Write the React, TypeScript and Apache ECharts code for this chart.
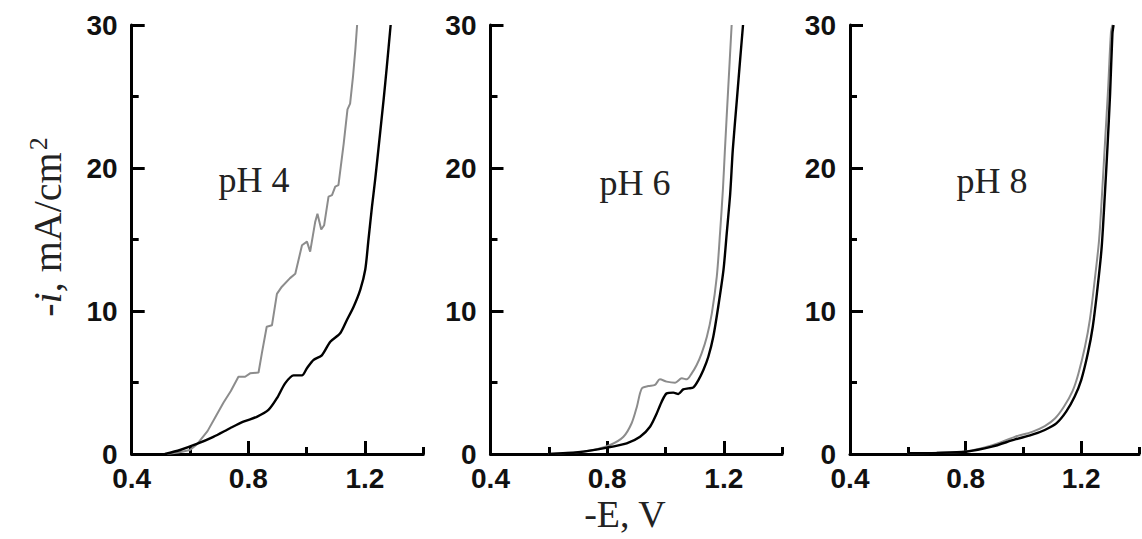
import React, { useEffect, useRef } from 'react';
import * as echarts from 'echarts';

// ---- data ----
const panelLabels = ['pH 4', 'pH 6', 'pH 8'];
const xLabelValues = [0.4, 0.8, 1.2];
const xMajorTickValues = [0.8, 1.2];

const ph4GrayE = [0.52, 0.56, 0.6, 0.625, 0.66, 0.69, 0.715, 0.74, 0.766, 0.789, 0.806, 0.835, 0.846, 0.863, 0.881, 0.898, 0.915, 0.943, 0.961, 0.984, 1.001, 1.012, 1.029, 1.037, 1.05, 1.06, 1.075, 1.087, 1.098, 1.109, 1.117, 1.127, 1.14, 1.149, 1.159, 1.167, 1.173];
const ph4GrayI = [0, 0.1, 0.28, 0.7, 1.6, 2.7, 3.6, 4.4, 5.4, 5.4, 5.64, 5.7, 7.0, 8.9, 9.0, 11.2, 11.7, 12.3, 12.6, 14.6, 14.85, 14.15, 16.2, 16.8, 15.7, 16.0, 18.0, 18.1, 18.7, 18.8, 20.1, 21.7, 24.1, 24.5, 26.4, 28.3, 30];
const ph4BlackE = [0.514, 0.566, 0.623, 0.68, 0.737, 0.783, 0.829, 0.869, 0.898, 0.926, 0.955, 0.984, 1.001, 1.023, 1.052, 1.081, 1.115, 1.138, 1.161, 1.184, 1.201, 1.212, 1.224, 1.235, 1.247, 1.264, 1.275, 1.288];
const ph4BlackI = [0, 0.28, 0.7, 1.2, 1.8, 2.26, 2.6, 3.08, 3.9, 4.94, 5.5, 5.5, 6.0, 6.57, 6.9, 7.85, 8.44, 9.37, 10.3, 11.5, 12.9, 15.0, 17.3, 19.2, 21.5, 24.8, 27.1, 30];

const ph6GrayE = [0.6, 0.7, 0.753, 0.81, 0.856, 0.884, 0.902, 0.919, 0.941, 0.964, 0.981, 1.004, 1.033, 1.056, 1.073, 1.09, 1.107, 1.124, 1.142, 1.159, 1.176, 1.187, 1.197, 1.204, 1.215, 1.227];
const ph6GrayI = [0, 0.12, 0.28, 0.63, 1.21, 2.15, 3.31, 4.59, 4.75, 4.83, 5.22, 5.06, 4.99, 5.29, 5.22, 5.64, 6.22, 7.04, 8.2, 9.84, 12.4, 15.4, 18.5, 21.3, 25.5, 30];
const ph6BlackE = [0.6, 0.7, 0.8, 0.867, 0.913, 0.947, 0.97, 0.987, 1.004, 1.027, 1.044, 1.061, 1.079, 1.096, 1.113, 1.13, 1.147, 1.164, 1.181, 1.199, 1.21, 1.222, 1.231, 1.245, 1.257, 1.266];
const ph6BlackI = [0, 0.12, 0.45, 0.75, 1.21, 1.91, 2.84, 3.66, 4.24, 4.29, 4.2, 4.52, 4.59, 4.66, 5.17, 5.87, 6.8, 8.2, 10.3, 12.87, 15.4, 18.2, 21.3, 24.8, 27.8, 30];

const ph8GrayE = [0.6, 0.7, 0.8, 0.89, 0.97, 1.03, 1.074, 1.11, 1.14, 1.17, 1.19, 1.213, 1.23, 1.247, 1.262, 1.273, 1.283, 1.293, 1.303, 1.308];
const ph8GrayI = [0.05, 0.08, 0.18, 0.6, 1.2, 1.55, 1.95, 2.5, 3.3, 4.4, 5.6, 7.5, 9.4, 12.2, 15.0, 18.5, 22, 25.5, 29.5, 30];
const ph8BlackE = [0.6, 0.7, 0.8, 0.891, 0.971, 1.028, 1.074, 1.114, 1.148, 1.177, 1.2, 1.223, 1.24, 1.257, 1.271, 1.282, 1.291, 1.3, 1.308, 1.312];
const ph8BlackI = [0.05, 0.08, 0.16, 0.51, 1.02, 1.33, 1.68, 2.14, 2.96, 4.0, 5.17, 7.04, 8.9, 11.7, 14.5, 18.2, 21.5, 25.2, 29.4, 30];

const panels = [
  { gray: [ph4GrayE, ph4GrayI], black: [ph4BlackE, ph4BlackI], graySmooth: 0 },
  { gray: [ph6GrayE, ph6GrayI], black: [ph6BlackE, ph6BlackI], graySmooth: 0.3 },
  { gray: [ph8GrayE, ph8GrayI], black: [ph8BlackE, ph8BlackI], graySmooth: 0.3 },
];

// ---- layout ----
const W = 1142;
const H = 539;
const gridLefts = [131.7, 490.5, 850];
const gridWidth = 291.6;
const gridTop = 25;
const gridHeight = 429;
const labelPos = [
  [254, 180],
  [635, 183],
  [992, 181],
];

const zip = (xs: number[], ys: number[]) => xs.map((x, i) => [x, ys[i]]);

export default function App() {
  const ref = useRef<HTMLDivElement>(null);

  useEffect(() => {
    document.body.style.margin = '0';
    if (!ref.current) return;
    const chart = echarts.init(ref.current, null, { renderer: 'svg' });

    const tickFont = {
      fontFamily: '"Liberation Sans", Arial, sans-serif',
      fontWeight: 'bold' as const,
      fontSize: 28,
      color: '#111',
    };
    const lineStyle = { color: '#000', width: 3 };

    const grid: any[] = [];
    const xAxis: any[] = [];
    const yAxis: any[] = [];
    const series: any[] = [];

    panels.forEach((p, k) => {
      grid.push({ left: gridLefts[k], top: gridTop, width: gridWidth, height: gridHeight, containLabel: false });
      xAxis.push({
        type: 'value',
        gridIndex: k,
        position: 'bottom',
        min: 0.4,
        max: 1.4,
        interval: 0.2,
        axisLine: { show: true, onZero: false, lineStyle },
        axisTick: { show: true, inside: true, length: 7, lineStyle },
        axisLabel: {
          ...tickFont,
          margin: 10,
          formatter: (v: number) =>
            xLabelValues.some((t) => Math.abs(t - v) < 1e-6) ? v.toFixed(1) : '',
        },
        splitLine: { show: false },
      });
      xAxis.push({
        type: 'value',
        gridIndex: k,
        position: 'bottom',
        min: 0.4,
        max: 1.4,
        interval: 0.2,
        axisLine: { show: false, onZero: false },
        axisTick: { show: true, inside: true, length: 13, lineStyle, customValues: xMajorTickValues },
        axisLabel: { show: false },
        splitLine: { show: false },
      });
      yAxis.push({
        type: 'value',
        gridIndex: k,
        min: 0,
        max: 30,
        interval: 10,
        axisLine: { show: true, onZero: false, lineStyle },
        axisTick: { show: true, inside: true, length: 13, lineStyle },
        minorTick: { show: true, splitNumber: 2, length: 7, lineStyle },
        axisLabel: { ...tickFont, margin: 14 },
        splitLine: { show: false },
        minorSplitLine: { show: false },
      });
      series.push({
        type: 'line',
        xAxisIndex: 2 * k,
        yAxisIndex: k,
        data: zip(p.gray[0], p.gray[1]),
        showSymbol: false,
        symbol: 'none',
        smooth: p.graySmooth,
        lineStyle: { color: '#8c8c8c', width: 2 },
        z: 2,
      });
      series.push({
        type: 'line',
        xAxisIndex: 2 * k,
        yAxisIndex: k,
        data: zip(p.black[0], p.black[1]),
        showSymbol: false,
        symbol: 'none',
        smooth: 0.25,
        lineStyle: { color: '#000', width: 2.4 },
        z: 3,
      });
    });

    const serif = '"Liberation Serif", "Times New Roman", serif';
    const graphic: any[] = panelLabels.map((t, k) => ({
      type: 'text',
      x: labelPos[k][0],
      y: labelPos[k][1],
      style: {
        text: t,
        font: `36px ${serif}`,
        fill: '#222',
        align: 'center',
        verticalAlign: 'middle',
      },
    }));
    graphic.push({
      type: 'text',
      x: 625,
      y: 514,
      style: {
        text: '-E, V',
        font: `38px ${serif}`,
        fill: '#222',
        align: 'center',
        verticalAlign: 'middle',
      },
    });
    graphic.push({
      type: 'text',
      x: 47,
      y: 227,
      rotation: Math.PI / 2,
      style: {
        text: '{n|-}{i|i}{n|, mA/cm}{s|2}',
        align: 'center',
        verticalAlign: 'middle',
        fill: '#222',
        rich: {
          n: { fontFamily: serif, fontSize: 40, fill: '#222', lineHeight: 44 },
          i: { fontFamily: serif, fontSize: 40, fontStyle: 'italic', fill: '#222', lineHeight: 44 },
          s: { fontFamily: serif, fontSize: 26, fill: '#222', verticalAlign: 'top', lineHeight: 20, padding: [0, 0, 0, 2] },
        },
      },
    });

    chart.setOption({
      animation: false,
      backgroundColor: '#fff',
      grid,
      xAxis,
      yAxis,
      series,
      graphic,
    });

    return () => chart.dispose();
  }, []);

  return <div ref={ref} style={{ width: W, height: H }} />;
}
